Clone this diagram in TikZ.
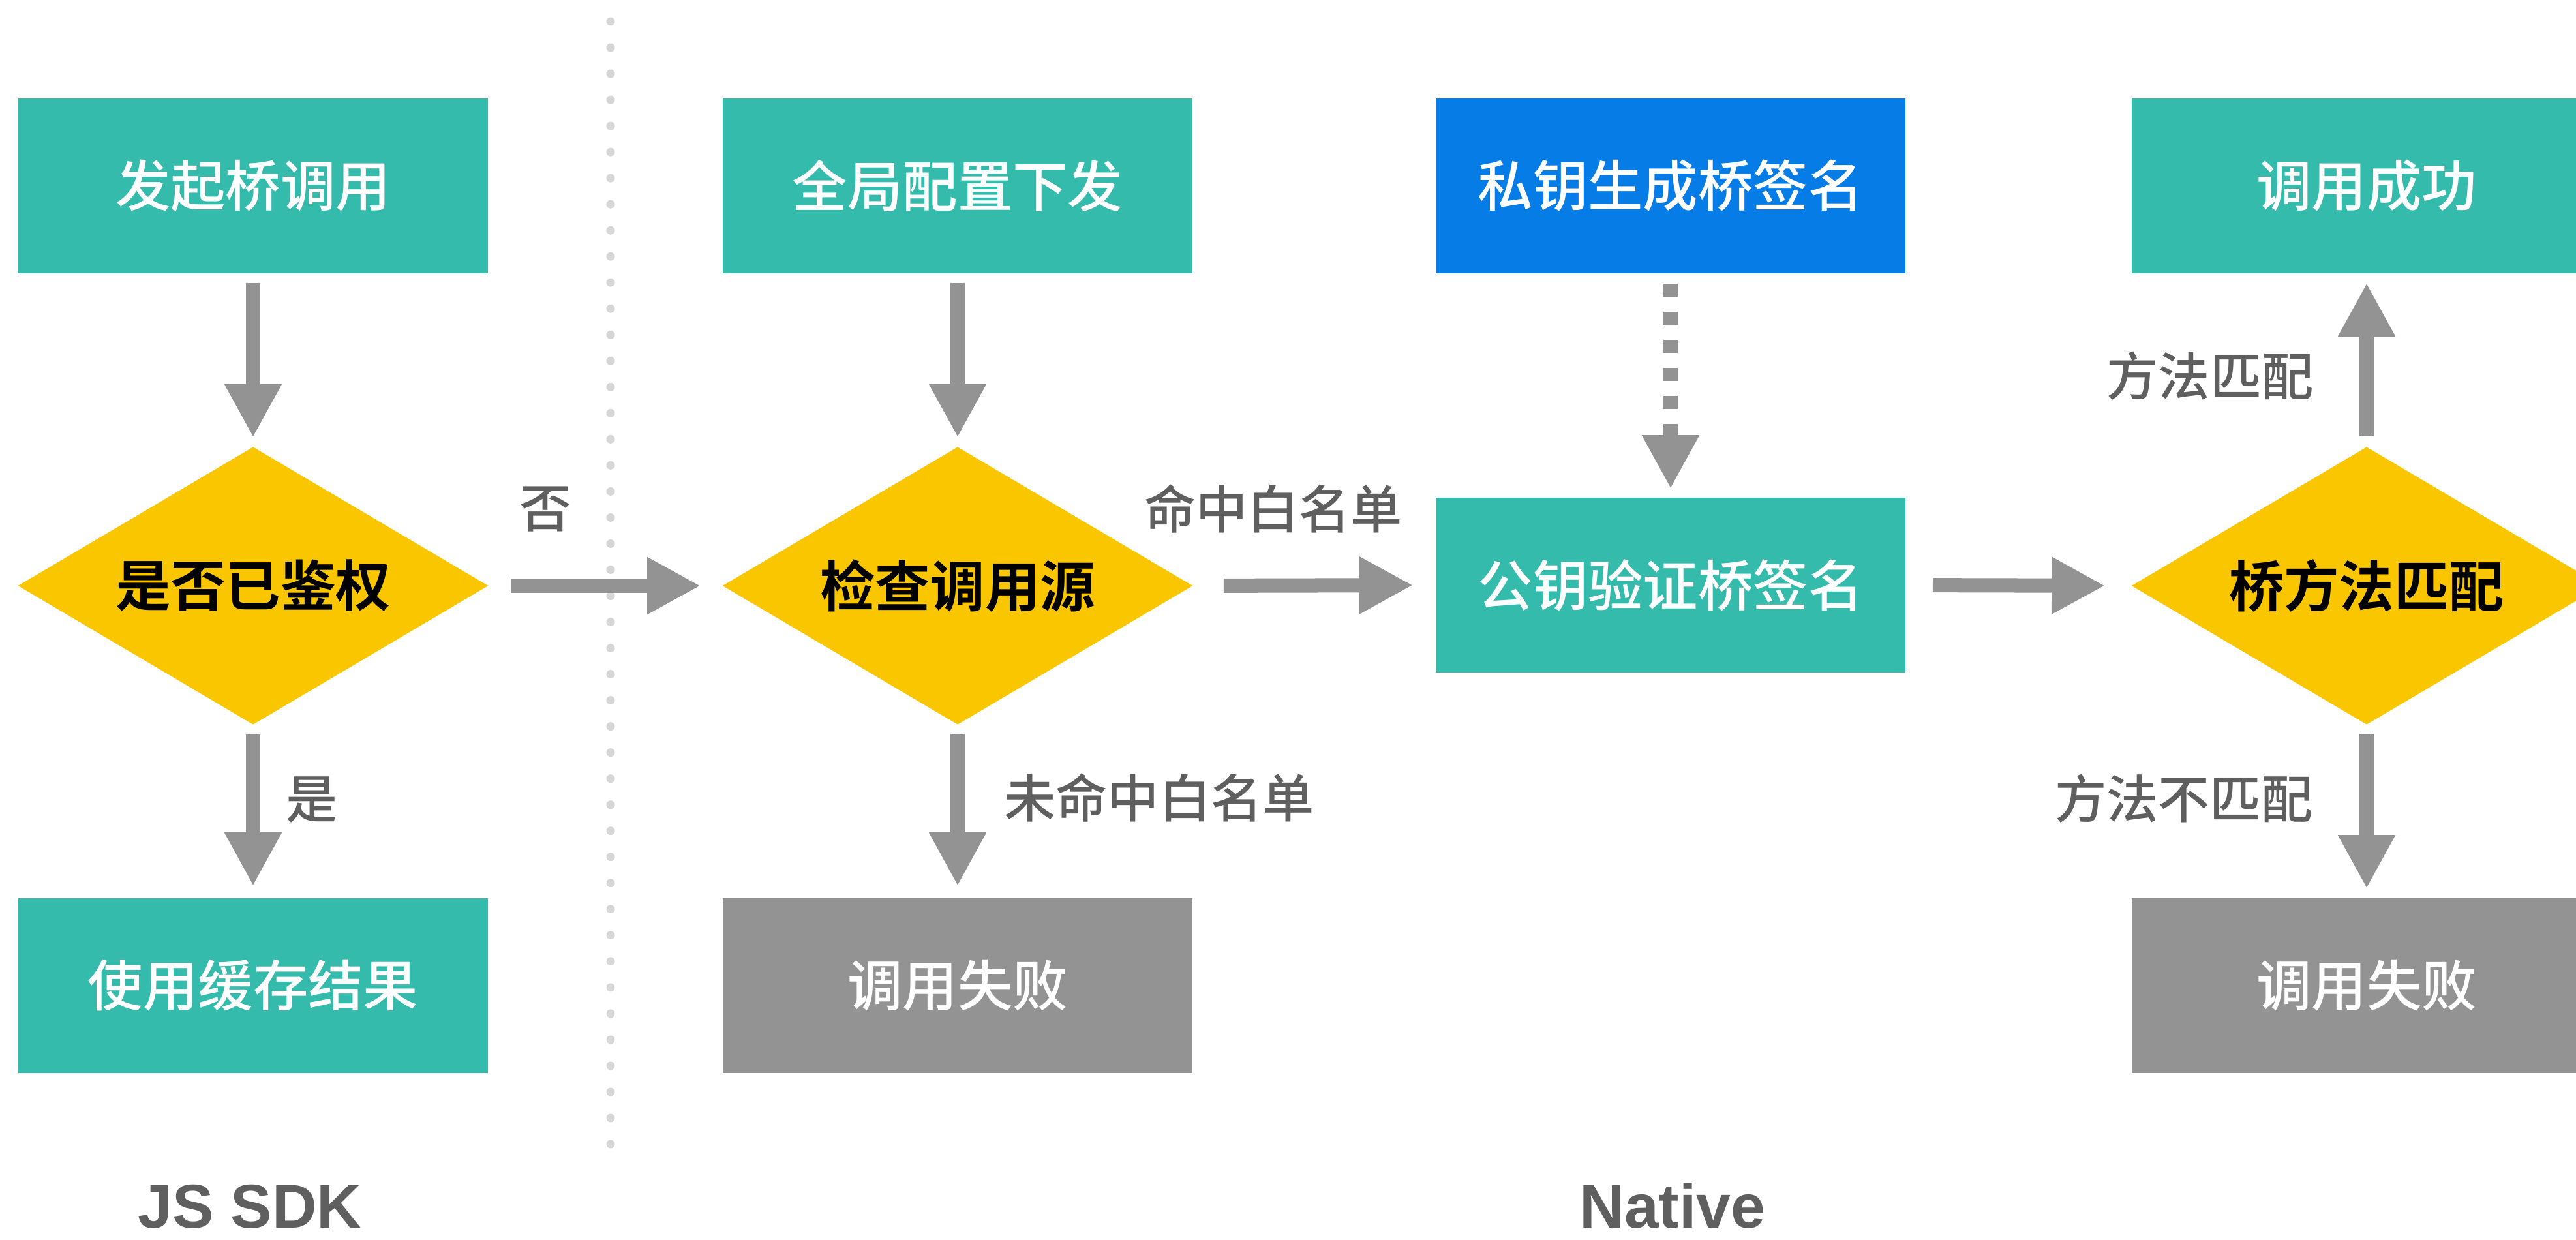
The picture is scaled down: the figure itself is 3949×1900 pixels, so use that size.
\documentclass[tikz,border=0pt]{standalone}
\usepackage{fontspec}
\setmainfont{Liberation Sans}
\newfontfamily\cjk{Noto Sans CJK SC Medium}
\newfontfamily\cjkb{Noto Sans CJK SC Bold}
\usetikzlibrary{arrows.meta}
\definecolor{tealbox}{HTML}{34BBAC}
\definecolor{bluebox}{HTML}{067DE6}
\definecolor{yellowdia}{HTML}{F9C600}
\definecolor{grayc}{HTML}{939393}
\definecolor{lblgray}{HTML}{5F5F5F}
\definecolor{dotgray}{HTML}{D6D6D6}
\begin{document}
\begin{tikzpicture}[x=0.01cm,y=-0.01cm,
  box/.style={rectangle, minimum width=7.2cm, minimum height=2.68cm, inner sep=0pt,
    font=\cjk\fontsize{24pt}{28pt}\selectfont, text=white},
  tbox/.style={box, fill=tealbox},
  bbox/.style={box, fill=bluebox},
  gbox/.style={box, fill=grayc},
  dia/.style={rectangle, minimum width=7.2cm, minimum height=4.25cm, inner sep=0pt,
    font=\cjkb\fontsize{24pt}{28pt}\selectfont, text=black,
    path picture={\fill[yellowdia] (path picture bounding box.north) -- (path picture bounding box.east)
      -- (path picture bounding box.south) -- (path picture bounding box.west) -- cycle;}},
  lbl/.style={font=\cjk\fontsize{22.5pt}{26pt}\selectfont, text=lblgray, inner sep=0pt},
  ttl/.style={font=\bfseries\fontsize{27pt}{32pt}\selectfont, text=lblgray, inner sep=0pt, anchor=base},
  arr/.style={draw=grayc, line width=0.22cm, -{Triangle[length=0.82cm,width=0.82cm]}},
]
\useasboundingbox (0,0) rectangle (3949,1900);

% separator
\draw[dotgray, line width=0.13cm, line cap=round, dash pattern=on 0pt off 0.4cm] (936,33) -- (936,1760);

% column 1
\node[tbox] (b1) at (388,285) {发起桥调用};
\node[dia]  (d1) at (388,898) {是否已鉴权};
\node[tbox] (b3) at (388,1511) {使用缓存结果};

% column 2
\node[tbox] (b2) at (1468,285) {全局配置下发};
\node[dia]  (d2) at (1468,898) {检查调用源};
\node[gbox] (f1) at (1468,1511) {调用失败};

% column 3
\node[bbox] (s) at (2561,285) {私钥生成桥签名};
\node[tbox] (k) at (2561,897) {公钥验证桥签名};

% column 4
\node[tbox] (ok) at (3628,285) {调用成功};
\node[dia]  (d4) at (3628,898) {桥方法匹配};
\node[gbox] (f2) at (3628,1511) {调用失败};

% connectors
\draw[arr, shorten <=0.14cm, shorten >=0.14cm] (b1.south) -- (d1.north);
\draw[arr, shorten <=0.15cm, shorten >=0.18cm] (d1.south) -- (b3.north);
\draw[arr, shorten <=0.34cm, shorten >=0.33cm] (d1.east) -- (d2.west);
\draw[arr, shorten <=0.14cm, shorten >=0.14cm] (b2.south) -- (d2.north);
\draw[arr, shorten <=0.15cm, shorten >=0.18cm] (d2.south) -- (f1.north);
\draw[arr, shorten <=0.47cm, shorten >=0.34cm] (d2.east) -- (k.west);
\draw[arr, dash pattern=on 0.2cm off 0.23cm, shorten <=0.15cm, shorten >=0.13cm] (s.south) -- (k.north);
\draw[arr, shorten <=0.41cm, shorten >=0.40cm] (k.east) -- (d4.west);
\draw[arr, shorten <=0.16cm, shorten >=0.14cm] (d4.north) -- (ok.south);
\draw[arr, shorten <=0.14cm, shorten >=0.14cm] (d4.south) -- (f2.north);

% connector labels
\node[lbl] (l1) at (836,781) {否};
\node[lbl] (l2) at (478,1226) {是};
\node[lbl] (l3) at (1952,780) {命中白名单};
\node[lbl] (l4) at (1777,1223) {未命中白名单};
\node[lbl] (l5) at (3388,576) {方法匹配};
\node[lbl] (l6) at (3348,1224) {方法不匹配};

% section titles
\node[ttl] (t1) at (383,1882) {JS SDK};
\node[ttl] (t2) at (2564,1882) {Native};
\end{tikzpicture}
\end{document}
